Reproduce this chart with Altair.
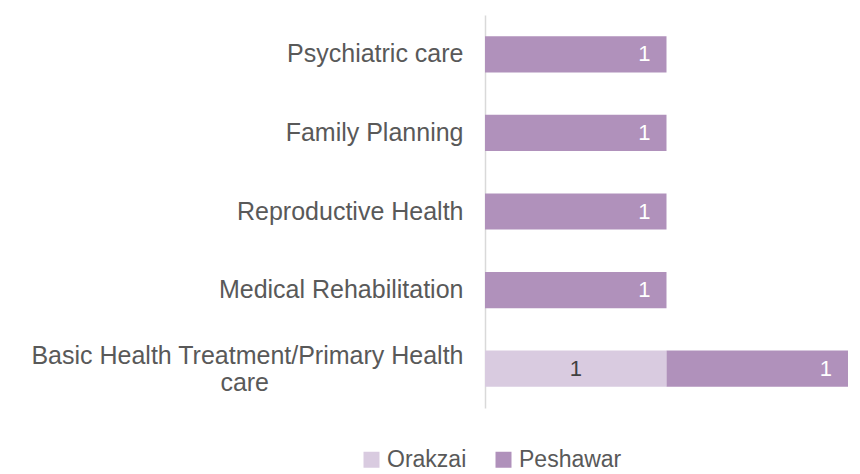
import altair as alt
import pandas as pd

categories = [
    "Psychiatric care",
    "Family Planning",
    "Reproductive Health",
    "Medical Rehabilitation",
    "Basic Health Treatment/Primary Health care",
]
series = ["Orakzai", "Peshawar"]
orakzai = [0, 0, 0, 0, 1]
peshawar = [1, 1, 1, 1, 1]
colors = ["#d9cbe0", "#b091bb"]

rows = []
for c, o, p in zip(categories, orakzai, peshawar):
    rows.append({"category": c, "series": "Orakzai", "value": o})
    rows.append({"category": c, "series": "Peshawar", "value": p})
df = pd.DataFrame(rows)

NB = "\u00a0"
ZW = "\u200d"
long_label = "Basic Health Treatment/Primary Health care"
label_expr = (
    "datum.value == '" + long_label + "' ? "
    "['Basic Health Treatment/Primary Health', 'care" + NB * 28 + ZW + "'] : datum.value"
)

y_enc = alt.Y(
    "category:N",
    sort=categories,
    title=None,
    scale=alt.Scale(paddingInner=0.54, paddingOuter=0.27),
    axis=alt.Axis(
        labelExpr=label_expr,
        labelFont="Liberation Sans",
        labelFontSize=25,
        labelColor="#595959",
        labelPadding=22,
        labelLineHeight=27,
        labelLimit=600,
        labelOffset={"condition": {"test": "datum.value == '" + long_label + "'", "value": -13}, "value": 0},
        ticks=False,
        domainColor="#d9d9d9",
        domainWidth=1.5,
        grid=False,
    ),
)

base = alt.Chart(df).transform_filter("datum.value > 0").transform_stack(
    stack="value",
    as_=["x0", "x1"],
    groupby=["category"],
    sort=[alt.SortField("series", order="ascending")],
)

x_scale = alt.Scale(domain=[0, 2])

bars = base.mark_bar().encode(
    y=y_enc,
    x=alt.X("x0:Q", scale=x_scale, axis=None, title=None),
    x2="x1:Q",
    color=alt.Color(
        "series:N",
        scale=alt.Scale(domain=series, range=colors),
        legend=alt.Legend(
            title=None,
            orient="none",
            direction="horizontal",
            legendX=-125,
            legendY=433,
            symbolType="square",
            symbolSize=256,
            symbolStrokeWidth=0,
            labelFont="Liberation Sans",
            labelFontSize=23,
            labelColor="#595959",
            labelOffset=4,
            columnPadding=25,
        ),
    ),
)

text_ora = base.transform_filter("datum.series == 'Orakzai'").transform_calculate(
    mid="(datum.x0 + datum.x1) / 2"
).mark_text(
    font="Liberation Sans", fontSize=22, color="#404040", align="center", baseline="middle"
).encode(
    y=alt.Y("category:N", sort=categories),
    x=alt.X("mid:Q", scale=x_scale),
    text="value:Q",
)

text_pes = base.transform_filter("datum.series == 'Peshawar'").mark_text(
    font="Liberation Sans", fontSize=22, color="#ffffff", align="right", baseline="middle", dx=-16
).encode(
    y=alt.Y("category:N", sort=categories),
    x=alt.X("x1:Q", scale=x_scale),
    text="value:Q",
)

chart = alt.layer(bars, text_ora, text_pes).properties(
    width=363,
    height=393,
    autosize=alt.AutoSizeParams(type="none"),
    padding={"left": 477, "top": 7, "right": 4, "bottom": 66},
).configure_view(stroke=None)

chart.save("out.html", embed_options={"renderer": "svg", "actions": False})
